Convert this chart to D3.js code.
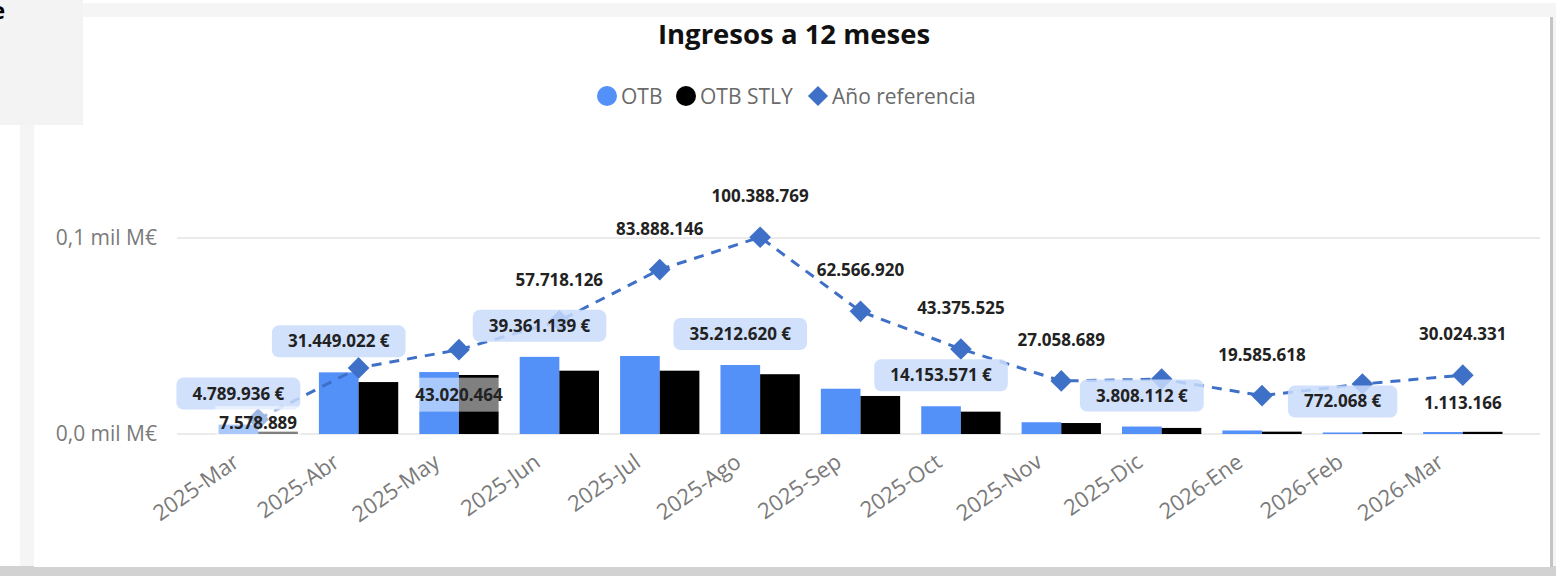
<!DOCTYPE html>
<html lang="es">
<head>
<meta charset="utf-8">
<script src="https://d3js.org/d3.v7.min.js"></script>
<style>
  body { margin: 0; background: #fff; }
  svg { display: block; font-family: "Open Sans", sans-serif; }
</style>
</head>
<body>
<div id="chart"></div>
<script>

var w = 1556;
var h = 576;

// data
var months = ["2025-Mar", "2025-Abr", "2025-May", "2025-Jun", "2025-Jul", "2025-Ago",
              "2025-Sep", "2025-Oct", "2025-Nov", "2025-Dic", "2026-Ene", "2026-Feb", "2026-Mar"];
var otb = [4789936, 31449022, 31600000, 39361139, 39800000, 35212620,
           23100000, 14153571, 6000000, 3808112, 1800000, 772068, 1000000];
var otbStly = [1200000, 26500000, 30100000, 32300000, 32300000, 30500000,
               19400000, 11400000, 5600000, 3100000, 1200000, 1000000, 1113166];
var anoRef = [7578889, 33700000, 43020464, 57718126, 83888146, 100388769,
              62566920, 43375525, 27058689, 28000000, 19585618, 25500000, 30024331];

var yTicks = [0, 100000000];
var yTickLabels = ["0,0 mil M€", "0,1 mil M€"];

// which labels Power BI kept visible
var otbLabelMonths = ["2025-Mar", "2025-Abr", "2025-Jun", "2025-Ago", "2025-Oct", "2025-Dic", "2026-Feb"];
var refLabelAbove = ["2025-Jun", "2025-Jul", "2025-Ago", "2025-Sep", "2025-Oct", "2025-Nov", "2026-Ene", "2026-Mar"];
var refLabelBelow = ["2025-Mar", "2025-May"];
var stlyLabelMonths = ["2026-Mar"];

var blue = "#5390f8";
var lineBlue = "#3f70c8";
var fmt = d3.formatLocale({decimal: ",", thousands: ".", grouping: [3], currency: ["", " €"]});
var num = fmt.format(",d");

var svg = d3.select("#chart").append("svg")
            .attr("width", w)
            .attr("height", h);

// card + surrounding chrome
svg.append("rect").attr("x", 20).attr("y", 3).attr("width", 1536).attr("height", 573).attr("fill", "#f5f5f5");
svg.append("rect").attr("x", 0).attr("y", 566).attr("width", w).attr("height", 10).attr("fill", "#d2d2d2");
svg.append("rect").attr("x", 34).attr("y", 17).attr("width", 1516).attr("height", 550).attr("fill", "#fff");
svg.append("rect").attr("x", 1550).attr("y", 17).attr("width", 3).attr("height", 550).attr("fill", "#c4c4c4");
svg.append("rect").attr("x", 0).attr("y", 0).attr("width", 83).attr("height", 125).attr("fill", "#f3f3f3");
svg.append("text").attr("x", -9).attr("y", 19).attr("font-size", 24).attr("font-weight", 700).text("e");

// title
svg.append("text")
   .attr("x", 794).attr("y", 44)
   .attr("text-anchor", "middle")
   .attr("font-size", 27.5).attr("font-weight", 700)
   .attr("fill", "#111")
   .text("Ingresos a 12 meses");

// legend
var leg = svg.append("g").attr("font-size", 21).attr("fill", "#6a6a6a");
leg.append("circle").attr("cx", 607).attr("cy", 96).attr("r", 10).attr("fill", blue);
leg.append("text").attr("x", 621).attr("y", 103.5).text("OTB");
leg.append("circle").attr("cx", 686).attr("cy", 96).attr("r", 10).attr("fill", "#000");
leg.append("text").attr("x", 700).attr("y", 103.5).text("OTB STLY");
leg.append("path").attr("d", d3.symbol(d3.symbolDiamond2, 260)())
   .attr("transform", "translate(818,96)").attr("fill", lineBlue);
leg.append("text").attr("x", 832).attr("y", 103.5).text("Año referencia");

// scales
var x = d3.scaleBand().domain(months).range([208, 1513]).paddingInner(0.21).paddingOuter(0.105);
var xSub = d3.scaleBand().domain(["otb", "stly"]).range([0, x.bandwidth()]);
var y = d3.scaleLinear().domain([0, 100000000]).range([434, 238]);

// gridlines + y labels
var grid = svg.append("g");
grid.selectAll("line").data(yTicks).enter().append("line")
    .attr("x1", 177).attr("x2", 1540)
    .attr("y1", function(d) { return y(d); })
    .attr("y2", function(d) { return y(d); })
    .attr("stroke", "#ebebeb").attr("stroke-width", 2);
grid.selectAll("text").data(yTicks).enter().append("text")
    .attr("x", 157)
    .attr("y", function(d) { return y(d) + 7; })
    .attr("text-anchor", "end")
    .attr("font-size", 21)
    .attr("fill", "#7a7a7a")
    .text(function(d, i) { return yTickLabels[i]; });

// x axis labels
var xAxis = svg.append("g")
    .attr("transform", "translate(0,450)")
    .call(d3.axisBottom(x).tickSize(0).tickPadding(0));
xAxis.select(".domain").remove();
xAxis.selectAll("text")
    .attr("font-size", 22)
    .attr("font-family", "Open Sans, sans-serif")
    .attr("fill", "#7a7a7a")
    .attr("text-anchor", "end")
    .attr("transform", "translate(-22,9) rotate(-35)")
    .attr("dy", "0.35em");

// bars
var groups = svg.append("g").selectAll("g")
    .data(months).enter().append("g")
    .attr("transform", function(d) { return "translate(" + x(d) + ",0)"; });

groups.append("rect")
    .attr("x", xSub("otb"))
    .attr("width", xSub.bandwidth())
    .attr("y", function(d, i) { return y(otb[i]); })
    .attr("height", function(d, i) { return y(0) - y(otb[i]); })
    .attr("fill", blue);

groups.append("rect")
    .attr("x", xSub("stly"))
    .attr("width", xSub.bandwidth())
    .attr("y", function(d, i) { return y(otbStly[i]); })
    .attr("height", function(d, i) { return y(0) - y(otbStly[i]); })
    .attr("fill", "#000");

// reference line
var cx = function(d) { return x(d) + x.bandwidth() / 2; };
var line = d3.line()
    .x(function(d, i) { return cx(months[i]); })
    .y(function(d) { return y(d); });

svg.append("path")
    .datum(anoRef)
    .attr("d", line)
    .attr("fill", "none")
    .attr("stroke", lineBlue)
    .attr("stroke-width", 3)
    .attr("stroke-dasharray", "10,8");

svg.append("g").selectAll("path")
    .data(anoRef).enter().append("path")
    .attr("d", d3.symbol(d3.symbolDiamond2, 300)())
    .attr("transform", function(d, i) { return "translate(" + cx(months[i]) + "," + y(d) + ")"; })
    .attr("fill", lineBlue);

// OTB labels in boxes
var lab = svg.append("g").attr("font-size", 17).attr("font-weight", 700).attr("fill", "#222");

otbLabelMonths.forEach(function(m) {
  var i = months.indexOf(m);
  var bx = x(m) + xSub("otb") + xSub.bandwidth() / 2;
  var by = y(otb[i]) - 31;
  var g = lab.append("g");
  var r = g.append("rect").attr("fill", "#c9dcfb").attr("fill-opacity", 0.85).attr("rx", 7);
  var t = g.append("text").attr("x", bx).attr("y", by + 6).attr("text-anchor", "middle")
           .text(num(otb[i]) + " €");
  var tw = t.node().getComputedTextLength();
  r.attr("x", bx - tw / 2 - 16).attr("y", by - 16).attr("width", tw + 32).attr("height", 32);
});

// reference labels
refLabelAbove.forEach(function(m) {
  var i = months.indexOf(m);
  lab.append("text").attr("x", cx(m)).attr("y", y(anoRef[i]) - 41 + 6)
     .attr("text-anchor", "middle").text(num(anoRef[i]));
});
refLabelBelow.forEach(function(m, k) {
  var i = months.indexOf(m);
  var ly = k == 0 ? y(anoRef[i]) + 4 : y(anoRef[i]) + 45;
  var g = lab.append("g");
  var r = g.append("rect").attr("fill", "#fff").attr("fill-opacity", 0.5);
  var t = g.append("text").attr("x", cx(m)).attr("y", ly + 6).attr("text-anchor", "middle").text(num(anoRef[i]));
  var tw = t.node().getComputedTextLength();
  r.attr("x", cx(m) - tw / 2 - 4).attr("y", ly - 17).attr("width", tw + 8).attr("height", 34);
  r.lower();
});

// STLY label
stlyLabelMonths.forEach(function(m) {
  var i = months.indexOf(m);
  lab.append("text").attr("x", cx(m)).attr("y", y(otbStly[i]) - 29 + 6)
     .attr("text-anchor", "middle").text(num(otbStly[i]));
});

</script>
</body>
</html>
